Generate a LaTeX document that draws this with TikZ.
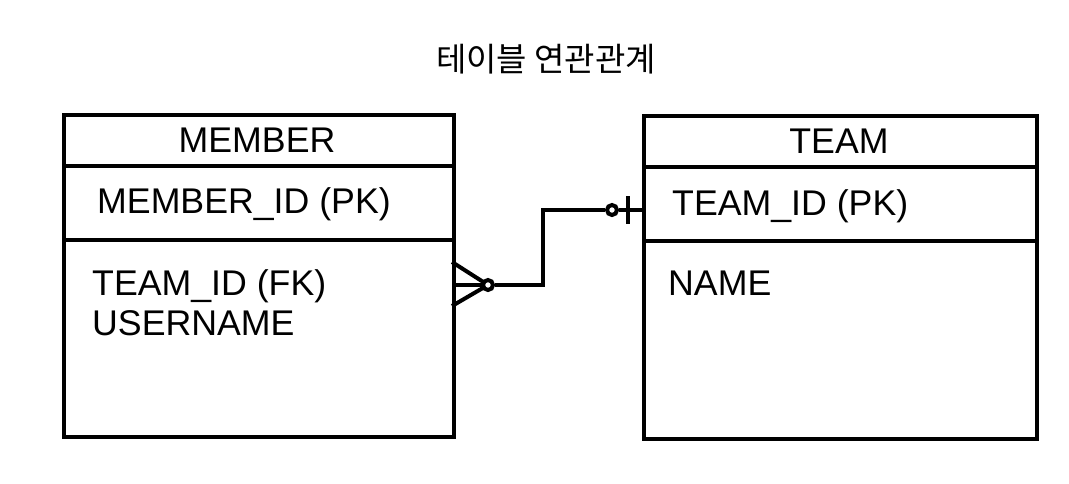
\documentclass[tikz,border=0pt]{standalone}
\usepackage{fontspec}
\setmainfont{Liberation Sans}
\newfontfamily\kr{Noto Sans CJK KR}
\begin{document}
\begin{tikzpicture}[x=1pt,y=-1pt,
  tbl/.style={draw,line width=4pt,rectangle},
  sep/.style={line width=4pt},
  conn/.style={line width=4pt},
  lbl/.style={anchor=base west,inner sep=0pt,font=\fontsize{35.7}{40}\selectfont},
  hdr/.style={anchor=base,inner sep=0pt,font=\fontsize{35.7}{40}\selectfont},
  ring/.style={circle,draw,fill=white,line width=4pt,minimum size=10pt,inner sep=0pt}
]
\useasboundingbox (0,0) rectangle (1069,483);
% title
\node[anchor=base,inner sep=0pt,font=\kr\fontsize{33}{38}\selectfont] (title) at (546,71) {테이블 연관관계};
% MEMBER table
\node[tbl,minimum width=390pt,minimum height=322pt,anchor=north west] (member) at (62,113) {};
\draw[sep] (62,166) -- (452,166);
\draw[sep] (62,240) -- (452,240);
\node[hdr] (mname) at (257,152) {MEMBER};
\node[lbl] (mpk) at (97,213) {MEMBER\_ID (PK)};
\node[lbl] (mfk) at (92,295) {TEAM\_ID (FK)};
\node[lbl] (muser) at (92,335) {USERNAME};
% TEAM table
\node[tbl,minimum width=393pt,minimum height=323pt,anchor=north west] (team) at (642,114) {};
\draw[sep] (642,167) -- (1035,167);
\draw[sep] (642,241) -- (1035,241);
\node[hdr] (tname) at (839,153) {TEAM};
\node[lbl] (tpk) at (672,215) {TEAM\_ID (PK)};
\node[lbl] (tn) at (668,295) {NAME};
% connector
\coordinate (ma) at (452,285);
\coordinate (mtop) at (452,262);
\coordinate (mbot) at (452,306);
\coordinate (ta) at (642,210);
\coordinate (bend1) at (543,285);
\coordinate (bend2) at (543,210);
\coordinate (bartop) at (628,196);
\coordinate (barbot) at (628,224);
\draw[conn] (mtop) -- (488,285);
\draw[conn] (mbot) -- (488,285);
\draw[conn] (ma) -- (488,285);
\node[ring] (r1) at (488,285) {};
\node[ring] (r2) at (612,210) {};
\draw[conn] (r1.east) -- (bend1) -- (bend2) -- (r2.west);
\draw[conn] (r2.east) -- (ta);
\draw[conn] (bartop) -- (barbot);
\end{tikzpicture}
\end{document}
